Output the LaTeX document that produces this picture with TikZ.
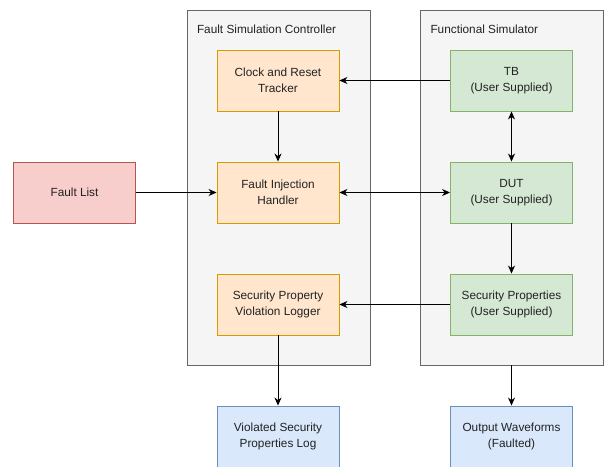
\documentclass[tikz,border=0pt]{standalone}
\usepackage{fontspec}
\setmainfont{Liberation Sans}
\usetikzlibrary{positioning,arrows.meta}
\definecolor{groupfill}{HTML}{F5F5F5}
\definecolor{groupline}{HTML}{666666}
\definecolor{ctrlfill}{HTML}{FFE6CC}
\definecolor{ctrlline}{HTML}{D79B00}
\definecolor{simfill}{HTML}{D5E8D4}
\definecolor{simline}{HTML}{82B366}
\definecolor{faultfill}{HTML}{F8CECC}
\definecolor{faultline}{HTML}{B85450}
\definecolor{outfill}{HTML}{DAE8FC}
\definecolor{outline}{HTML}{6C8EBF}
\definecolor{txt}{HTML}{222222}

\begin{document}
\begin{tikzpicture}[x=1pt, y=-1pt,
        block/.style={minimum width=122pt, minimum height=61pt, align=center,
                      font=\fontsize{11.8}{15.5}\selectfont, text=txt, inner sep=0pt, line width=0.9pt},
        group/.style={draw=groupline, fill=groupfill, minimum width=183pt, minimum height=355pt,
                      inner sep=0pt, line width=0.9pt},
        title/.style={anchor=west, font=\fontsize{11.8}{14}\selectfont, text=txt},
        link/.style={-{Stealth[length=8pt,width=7pt,inset=2.5pt]}, line width=0.9pt},
        biglink/.style={{Stealth[length=8pt,width=7pt,inset=2.5pt]}-{Stealth[length=8pt,width=7pt,inset=2.5pt]}, line width=0.9pt},
      ]
        \useasboundingbox (0,0) rectangle (605,466);
        % Containers
        \node[group] (fsc) at (278.5,187.5) {};
        \node[group] (fs) at (511.5,187.5) {};
        \node[title] (fsctitle) at (193.5,29) {Fault Simulation Controller};
        \node[title] (fstitle) at (427,29) {Functional Simulator};
        % Controller blocks
        \node[block, draw=ctrlline, fill=ctrlfill] (clock) at (278,80.5) {Clock and Reset\\Tracker};
        \node[block, draw=ctrlline, fill=ctrlfill] (inject) at (278,192.5) {Fault Injection\\Handler};
        \node[block, draw=ctrlline, fill=ctrlfill] (logger) at (278,304.5) {Security Property\\Violation Logger};
        % Simulator blocks
        \node[block, draw=simline, fill=simfill] (tb) at (511.5,80.5) {TB\\(User Supplied)};
        \node[block, draw=simline, fill=simfill] (dut) at (511.5,192.5) {DUT\\(User Supplied)};
        \node[block, draw=simline, fill=simfill] (props) at (511.5,304.5) {Security Properties\\(User Supplied)};
        % Input and outputs
        \node[block, draw=faultline, fill=faultfill] (faults) at (74.5,192.5) {Fault List};
        \node[block, draw=outline, fill=outfill] (vlog) at (278,436.5) {Violated Security\\Properties Log};
        \node[block, draw=outline, fill=outfill] (waves) at (511.5,436.5) {Output Waveforms\\(Faulted)};
        % Connections
        \draw[link] (tb) -- (clock);
        \draw[link] (clock) -- (inject);
        \draw[link] (faults) -- (inject);
        \draw[biglink] (inject) -- (dut);
        \draw[biglink] (tb) -- (dut);
        \draw[link] (dut) -- (props);
        \draw[link] (props) -- (logger);
        \draw[link] (logger) -- (vlog);
        \draw[link] (fs.south) -- (waves);
      \end{tikzpicture}
\end{document}
